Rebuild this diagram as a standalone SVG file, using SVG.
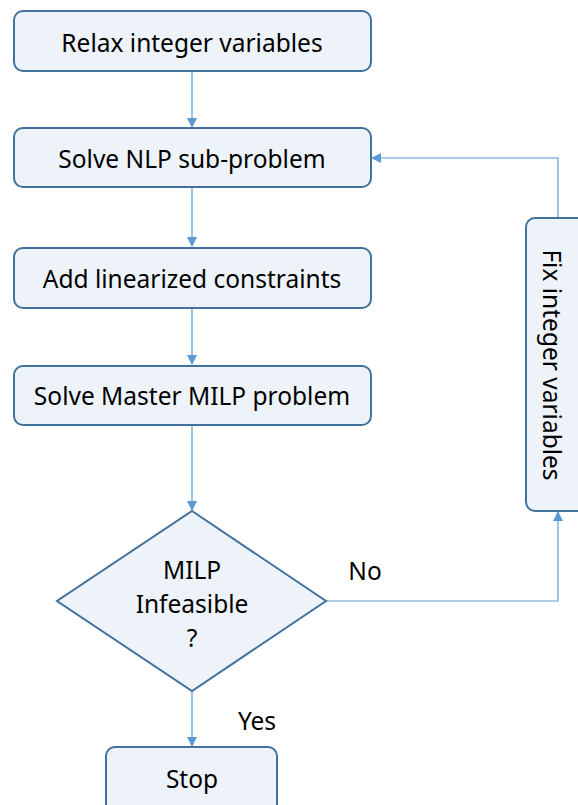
<svg xmlns="http://www.w3.org/2000/svg" width="578" height="805" viewBox="0 0 578 805">
<style>
.n{fill:#EEF3FA;stroke:#41719C;stroke-width:2}
.t{font-family:"Noto Sans","Open Sans",sans-serif;font-size:24.5px;fill:#000;text-anchor:middle;dominant-baseline:central}
.c{fill:none;stroke:#5B9BD5;stroke-width:1.2}
</style>
<defs>
<marker id="a" markerWidth="10" markerHeight="10" refX="9" refY="5" orient="auto" markerUnits="userSpaceOnUse">
<path d="M0,0 L10,5 L0,10 Z" fill="#5B9BD5"/>
</marker>
</defs>
<g id="connectors">
<line class="c" x1="192" y1="71" x2="192" y2="127" marker-end="url(#a)"/>
<line class="c" x1="192" y1="187" x2="192" y2="246" marker-end="url(#a)"/>
<line class="c" x1="192" y1="308" x2="192" y2="364" marker-end="url(#a)"/>
<line class="c" x1="192" y1="425" x2="192" y2="510" marker-end="url(#a)"/>
<line class="c" x1="192" y1="691" x2="192" y2="746" marker-end="url(#a)"/>
<polyline class="c" points="326,601 558,601 558,512" marker-end="url(#a)"/>
<polyline class="c" points="558,218 558,158 372,158" marker-end="url(#a)"/>
</g>
<g id="relax">
<rect class="n" x="14" y="11" width="357" height="60" rx="9"/>
<text class="t" x="192" y="42">Relax integer variables</text>
</g>
<g id="solve-nlp">
<rect class="n" x="14" y="128" width="357" height="59" rx="9"/>
<text class="t" x="192" y="158">Solve NLP sub-problem</text>
</g>
<g id="add-lin">
<rect class="n" x="14" y="248" width="357" height="60" rx="9"/>
<text class="t" x="192" y="278">Add linearized constraints</text>
</g>
<g id="solve-milp">
<rect class="n" x="14" y="366" width="357" height="59" rx="9"/>
<text class="t" x="192" y="395">Solve Master MILP problem</text>
</g>
<g id="decision">
<polygon class="n" points="192,511 326,601 192,691 57,601"/>
<text class="t" x="192" y="569">MILP</text>
<text class="t" x="192" y="603">Infeasible</text>
<text class="t" x="192" y="637">?</text>
</g>
<g id="stop">
<rect class="n" x="106" y="747" width="171" height="70" rx="9"/>
<text class="t" x="192" y="778">Stop</text>
</g>
<g id="fix">
<rect class="n" x="526" y="218" width="70" height="293" rx="9"/>
<text class="t" transform="translate(552,365) rotate(90)">Fix integer variables</text>
</g>
<g id="labels">
<text class="t" x="365" y="570">No</text>
<text class="t" x="257" y="720">Yes</text>
</g>
</svg>
